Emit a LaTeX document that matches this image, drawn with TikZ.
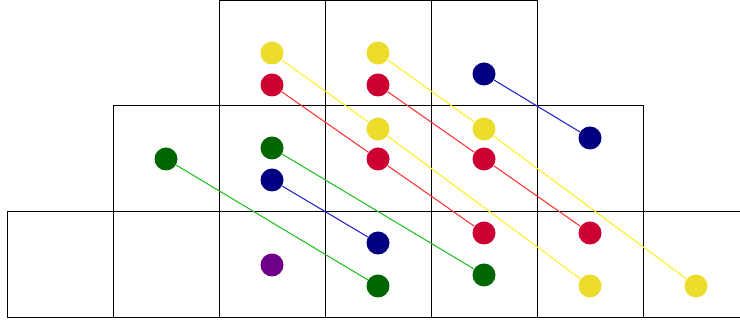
\documentclass[tikz,border=0pt]{standalone}
\definecolor{dotY}{HTML}{ECDC2C}
\definecolor{dotR}{HTML}{CC0033}
\definecolor{dotG}{HTML}{006600}
\definecolor{dotB}{HTML}{000080}
\definecolor{dotP}{HTML}{6F008A}
\definecolor{lnY}{HTML}{FFF020}
\definecolor{lnR}{HTML}{FF3333}
\definecolor{lnG}{HTML}{22C022}
\definecolor{lnB}{HTML}{2222CC}
\tikzset{
  cellbox/.style={draw=black, line width=1.2pt},
  dotnode/.style={circle, inner sep=0pt, minimum size=17.25pt},
  conn/.style={line width=0.8pt},
}
\begin{document}
\begin{tikzpicture}[x=0.75pt, y=-0.75pt]
\useasboundingbox (0,0) rectangle (740,323);
% grid
\begin{scope}
\clip (0,-2) rectangle (740,323);
\foreach \i in {0,...,6} {
  \draw[cellbox] ({7.5+106*\i},211.5) rectangle ({7.5+106*(\i+1)},317.5);
}
\foreach \i in {1,...,5} {
  \draw[cellbox] ({7.5+106*\i},105.5) rectangle ({7.5+106*(\i+1)},211.5);
}
\foreach \i in {2,...,4} {
  \draw[cellbox] ({7.5+106*\i},0.5) rectangle ({7.5+106*(\i+1)},105.5);
}
\end{scope}
% dots
\node[dotnode, fill=dotY] (y1) at (272,53) {};
\node[dotnode, fill=dotR] (r1) at (272,85) {};
\node[dotnode, fill=dotG] (g0) at (166,159) {};
\node[dotnode, fill=dotG] (g1) at (272,148) {};
\node[dotnode, fill=dotB] (b1) at (272,180) {};
\node[dotnode, fill=dotP] (p1) at (272,265) {};
\node[dotnode, fill=dotY] (y2) at (378,53) {};
\node[dotnode, fill=dotR] (r2) at (378,85) {};
\node[dotnode, fill=dotY] (y3) at (378,129) {};
\node[dotnode, fill=dotR] (r3) at (378,159) {};
\node[dotnode, fill=dotB] (b2) at (378,243) {};
\node[dotnode, fill=dotG] (g2) at (378,286) {};
\node[dotnode, fill=dotB] (b3) at (484,74) {};
\node[dotnode, fill=dotY] (y4) at (484,129) {};
\node[dotnode, fill=dotR] (r4) at (484,159) {};
\node[dotnode, fill=dotR] (r5) at (484,233) {};
\node[dotnode, fill=dotG] (g3) at (484,275) {};
\node[dotnode, fill=dotB] (b4) at (590,138) {};
\node[dotnode, fill=dotR] (r6) at (590,233) {};
\node[dotnode, fill=dotY] (y5) at (590,286) {};
\node[dotnode, fill=dotY] (y6) at (696,286) {};
% connectors
\draw[conn, lnY] (y1) -- (y3);
\draw[conn, lnY] (y3) -- (y5);
\draw[conn, lnY] (y2) -- (y4);
\draw[conn, lnY] (y4) -- (y6);
\draw[conn, lnR] (r1) -- (r3);
\draw[conn, lnR] (r3) -- (r5);
\draw[conn, lnR] (r2) -- (r4);
\draw[conn, lnR] (r4) -- (r6);
\draw[conn, lnG] (g0) -- (g2);
\draw[conn, lnG] (g1) -- (g3);
\draw[conn, lnB] (b1) -- (b2);
\draw[conn, lnB] (b3) -- (b4);
\end{tikzpicture}
\end{document}
